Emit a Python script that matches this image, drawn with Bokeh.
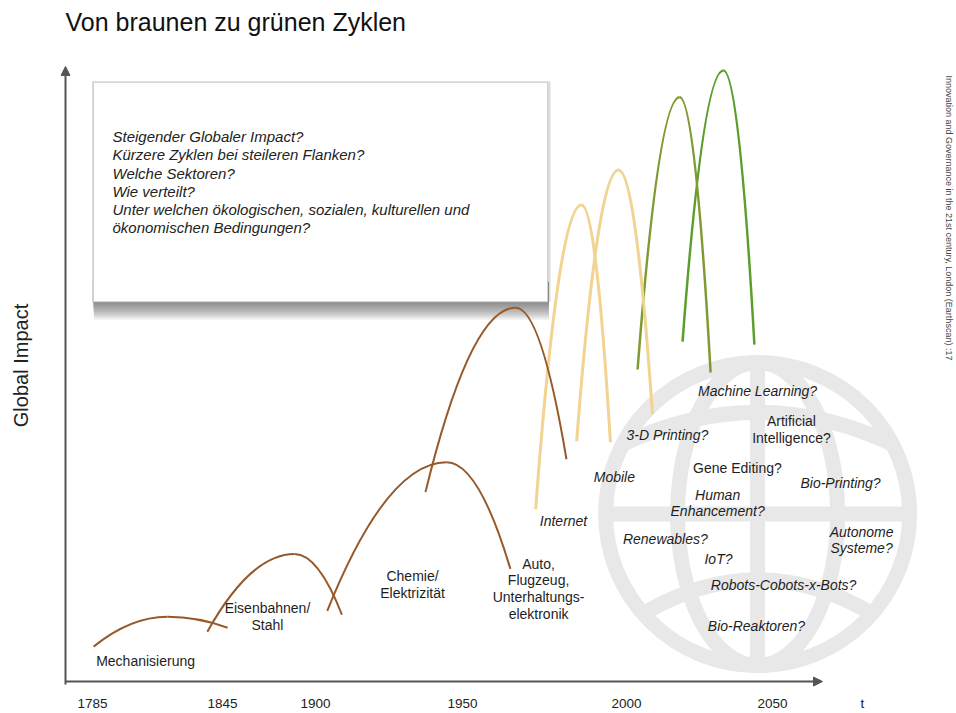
import numpy as np
from bokeh.plotting import figure
from bokeh.models import Range1d, FixedTicker, Arrow, NormalHead, ColumnDataSource
from bokeh.core.properties import value
from bokeh.embed import file_html
from bokeh.resources import INLINE

# ------------------------------------------------------------------ data
TICK_YEARS = [1785, 1845, 1900, 1950, 2000, 2050]
TICK_LABELS = ["1785", "1845", "1900", "1950", "2000", "2050"]
AXIS_NAME = "t"

CYCLE_NAMES = ["Mechanisierung", "Eisenbahnen/Stahl", "Chemie/Elektrizität",
               "Auto, Flugzeug, Unterhaltungselektronik", "Internet", "Mobile",
               "Grüner Zyklus 1", "Grüner Zyklus 2"]
START_YEAR = [1785.5, 1838.0, 1904.0, 1937.4, 1972.3, 1984.8, 2003.8, 2019.2]
START_IMPACT = [35, 50, 71, 190, 173, 241, 313, 341]
PEAK_YEAR = [1819.6, 1887.6, 1944.6, 1966.2, 1986.3, 1997.6, 2018.2, 2033.2]
PEAK_IMPACT = [65, 128, 220, 375, 478, 513, 586, 613]
END_YEAR = [1848.0, 1909.0, 1964.6, 1981.7, 1995.1, 2008.9, 2028.8, 2043.8]
END_IMPACT = [54, 67, 113, 223, 240, 268, 310, 338]
CYCLE_KIND = ["braun", "braun", "braun", "braun", "hell", "hell", "oliv", "grün"]

UPRIGHT_LABELS = ["Mechanisierung", "Eisenbahnen/\nStahl", "Chemie/\nElektrizität",
                  "Auto,\nFlugzeug,\nUnterhaltungs-\nelektronik",
                  "Artificial\nIntelligence?", "Gene Editing?"]
UPRIGHT_YEAR = [1809.5, 1871.6, 1933.0, 1973.2, 2056.5, 2038.0]
UPRIGHT_IMPACT = [21, 65, 97, 93, 253, 214]

ITALIC_LABELS = ["Internet", "Mobile", "3-D Printing?", "Machine Learning?", "Bio-Printing?",
                 "Human\nEnhancement?", "Renewables?", "Autonome\nSysteme?", "IoT?",
                 "Robots-Cobots-x-Bots?", "Bio-Reaktoren?"]
ITALIC_YEAR = [1980.8, 1996.3, 2014.0, 2044.9, 2073.3, 2031.2, 2013.3, 2080.5, 2031.5, 2053.8, 2044.5]
ITALIC_IMPACT = [161, 205, 247, 291, 199, 179, 143, 142, 123, 97, 56]

BOX_LINES = ["Steigender Globaler Impact?",
             "Kürzere Zyklen bei steileren Flanken?",
             "Welche Sektoren?",
             "Wie verteilt?",
             "Unter welchen ökologischen, sozialen, kulturellen und",
             "ökonomischen Bedingungen?"]

SOURCE_TEXT = "Innovation and Governance in the 21st century, London (Earthscan) :17"

# ------------------------------------------------------------------ layout / style
TICK_X = [32, 162, 255, 402, 566, 712]   # horizontal position of each tick on the (non-linear) time axis
AXIS_NAME_X = 802
COLORS = {"braun": "#97592a", "hell": "#f1d392", "oliv": "#7f9b30", "grün": "#5b9e2d"}
WIDTHS = {"braun": 2.0, "hell": 3.0, "oliv": 2.5, "grün": 2.5}
FONT = "Liberation Sans"
GLOBE_COLOR = "#e8e8e8"


def to_x(year):
    y = np.asarray(year, dtype=float)
    x = np.interp(y, TICK_YEARS, TICK_X)
    lo = (TICK_X[1] - TICK_X[0]) / (TICK_YEARS[1] - TICK_YEARS[0])
    hi = (TICK_X[-1] - TICK_X[-2]) / (TICK_YEARS[-1] - TICK_YEARS[-2])
    x = np.where(y < TICK_YEARS[0], TICK_X[0] + (y - TICK_YEARS[0]) * lo, x)
    x = np.where(y > TICK_YEARS[-1], TICK_X[-1] + (y - TICK_YEARS[-1]) * hi, x)
    return x


p = figure(width=956, height=713, x_range=Range1d(0, 896), y_range=Range1d(-14, 648),
           output_backend="svg", toolbar_location=None,
           min_border_left=60, min_border_right=0, min_border_top=35, min_border_bottom=16,
           outline_line_color=None, background_fill_color="white", border_fill_color="white")
p.grid.visible = False

p.title.text = "Von braunen zu grünen Zyklen"
p.title.text_font = FONT
p.title.text_font_size = "25px"
p.title.text_font_style = "normal"
p.title.text_color = "#111111"
p.title.align = "left"
p.title.vertical_align = "bottom"
p.title.offset = 5
p.title.standoff = 0

# x axis: ticks on the non-linear time axis, plus the axis name "t"
p.xaxis.ticker = FixedTicker(ticks=TICK_X + [AXIS_NAME_X])
overrides = {tx: lab for tx, lab in zip(TICK_X, TICK_LABELS)}
overrides[AXIS_NAME_X] = AXIS_NAME
p.xaxis.major_label_overrides = overrides
p.xaxis.axis_line_color = None
p.xaxis.major_tick_line_color = None
p.xaxis.minor_tick_line_color = None
p.xaxis.major_tick_out = 0
p.xaxis.major_tick_in = 0
p.xaxis.major_label_standoff = 0
p.xaxis.major_label_text_font = FONT
p.xaxis.major_label_text_font_size = "13.5px"
p.xaxis.major_label_text_color = "#222222"

p.yaxis.ticker = FixedTicker(ticks=[])
p.yaxis.axis_line_color = None
p.yaxis.major_tick_out = 0
p.yaxis.minor_tick_line_color = None
p.yaxis.axis_label = "Global Impact"
p.yaxis.axis_label_text_font = FONT
p.yaxis.axis_label_text_font_size = "20px"
p.yaxis.axis_label_text_font_style = "normal"
p.yaxis.axis_label_text_color = "#222222"
p.yaxis.axis_label_standoff = 29

# ------------------------------------------------------------------ globe (decoration)
gx = float(to_x(2044.9))
gy = 168.0
R = 152.0
p.ellipse(x=[gx], y=[gy], width=[2 * R], height=[2 * R], fill_color=None,
          line_color=GLOBE_COLOR, line_width=15)
p.ellipse(x=[gx], y=[gy], width=[160], height=[2 * R], fill_color=None,
          line_color=GLOBE_COLOR, line_width=15)
p.segment(x0=[gx, gx - R], y0=[gy - R, gy], x1=[gx, gx + R], y1=[gy + R, gy],
          line_color=GLOBE_COLOR, line_width=15)
p.quadratic(x0=[gx - 135, gx - 114.5], y0=[gy + 70, gy - 100],
            x1=[gx + 135, gx + 114.5], y1=[gy + 70, gy - 100],
            cx=[gx, gx], cy=[gy + 134, gy - 32],
            line_color=GLOBE_COLOR, line_width=15)

# ------------------------------------------------------------------ question box with shadow
BL, BR, BT, BB = 33, 487, 601, 381
for i in range(9):
    d = 2.0 * (i + 1)
    p.quad(left=[BL - 1 + i * 0.2], right=[BR + 1.5], top=[BB + 20], bottom=[BB - d],
           fill_color="#383838", fill_alpha=0.085, line_color=None)
p.quad(left=[BL - 1.5], right=[BR + 3], top=[BT + 1], bottom=[BB], fill_color="#888888",
       fill_alpha=0.3, line_color=None)
p.quad(left=[BL], right=[BR], top=[BT], bottom=[BB], fill_color="white",
       line_color="#d0d0d0", line_width=1)
box_y = [547, 529, 510, 492, 473, 455]
p.text(x=[52] * len(BOX_LINES), y=box_y, text=BOX_LINES, text_font=value(FONT),
       text_font_size="15px", text_font_style="italic", text_color="#222222",
       text_baseline="middle", text_align="left")

# ------------------------------------------------------------------ cycles
sx, px_, ex = to_x(START_YEAR), to_x(PEAK_YEAR), to_x(END_YEAR)
cols = [COLORS[k] for k in CYCLE_KIND]
wids = [WIDTHS[k] for k in CYCLE_KIND]
src = ColumnDataSource(dict(
    x0=list(sx) + list(px_), y0=START_IMPACT + PEAK_IMPACT,
    x1=list(px_) + list(ex), y1=PEAK_IMPACT + END_IMPACT,
    cx=list((sx + px_) / 2) + list((px_ + ex) / 2), cy=PEAK_IMPACT + PEAK_IMPACT,
    color=cols + cols, width=wids + wids))
p.quadratic(x0="x0", y0="y0", x1="x1", y1="y1", cx="cx", cy="cy",
            line_color="color", line_width="width", source=src)

# ------------------------------------------------------------------ labels
p.text(x=to_x(UPRIGHT_YEAR), y=UPRIGHT_IMPACT, text=UPRIGHT_LABELS, text_font=value(FONT),
       text_font_size="14px", text_color="#1e1e1e", text_align="center",
       text_baseline="middle", text_line_height=1.05)
p.text(x=to_x(ITALIC_YEAR), y=ITALIC_IMPACT, text=ITALIC_LABELS, text_font=value(FONT),
       text_font_size="14px", text_font_style="italic", text_color="#1e1e1e",
       text_align="center", text_baseline="middle", text_line_height=1.05)

# source note, rotated, at the right edge
p.text(x=[888], y=[608], text=[SOURCE_TEXT], angle=-np.pi / 2, text_font=value(FONT),
       text_font_size="9px", text_color="#444444", text_align="left", text_baseline="middle")

# ------------------------------------------------------------------ axes arrows
ax_col = "#555555"
p.add_layout(Arrow(x_start=5, y_start=-3, x_end=5, y_end=617, line_color=ax_col, line_width=2,
                   end=NormalHead(size=9, fill_color=ax_col, line_color=ax_col)))
p.add_layout(Arrow(x_start=5, y_start=0, x_end=762, y_end=0, line_color=ax_col, line_width=2,
                   end=NormalHead(size=9, fill_color=ax_col, line_color=ax_col)))

open("out.html", "w").write(file_html(p, INLINE))
